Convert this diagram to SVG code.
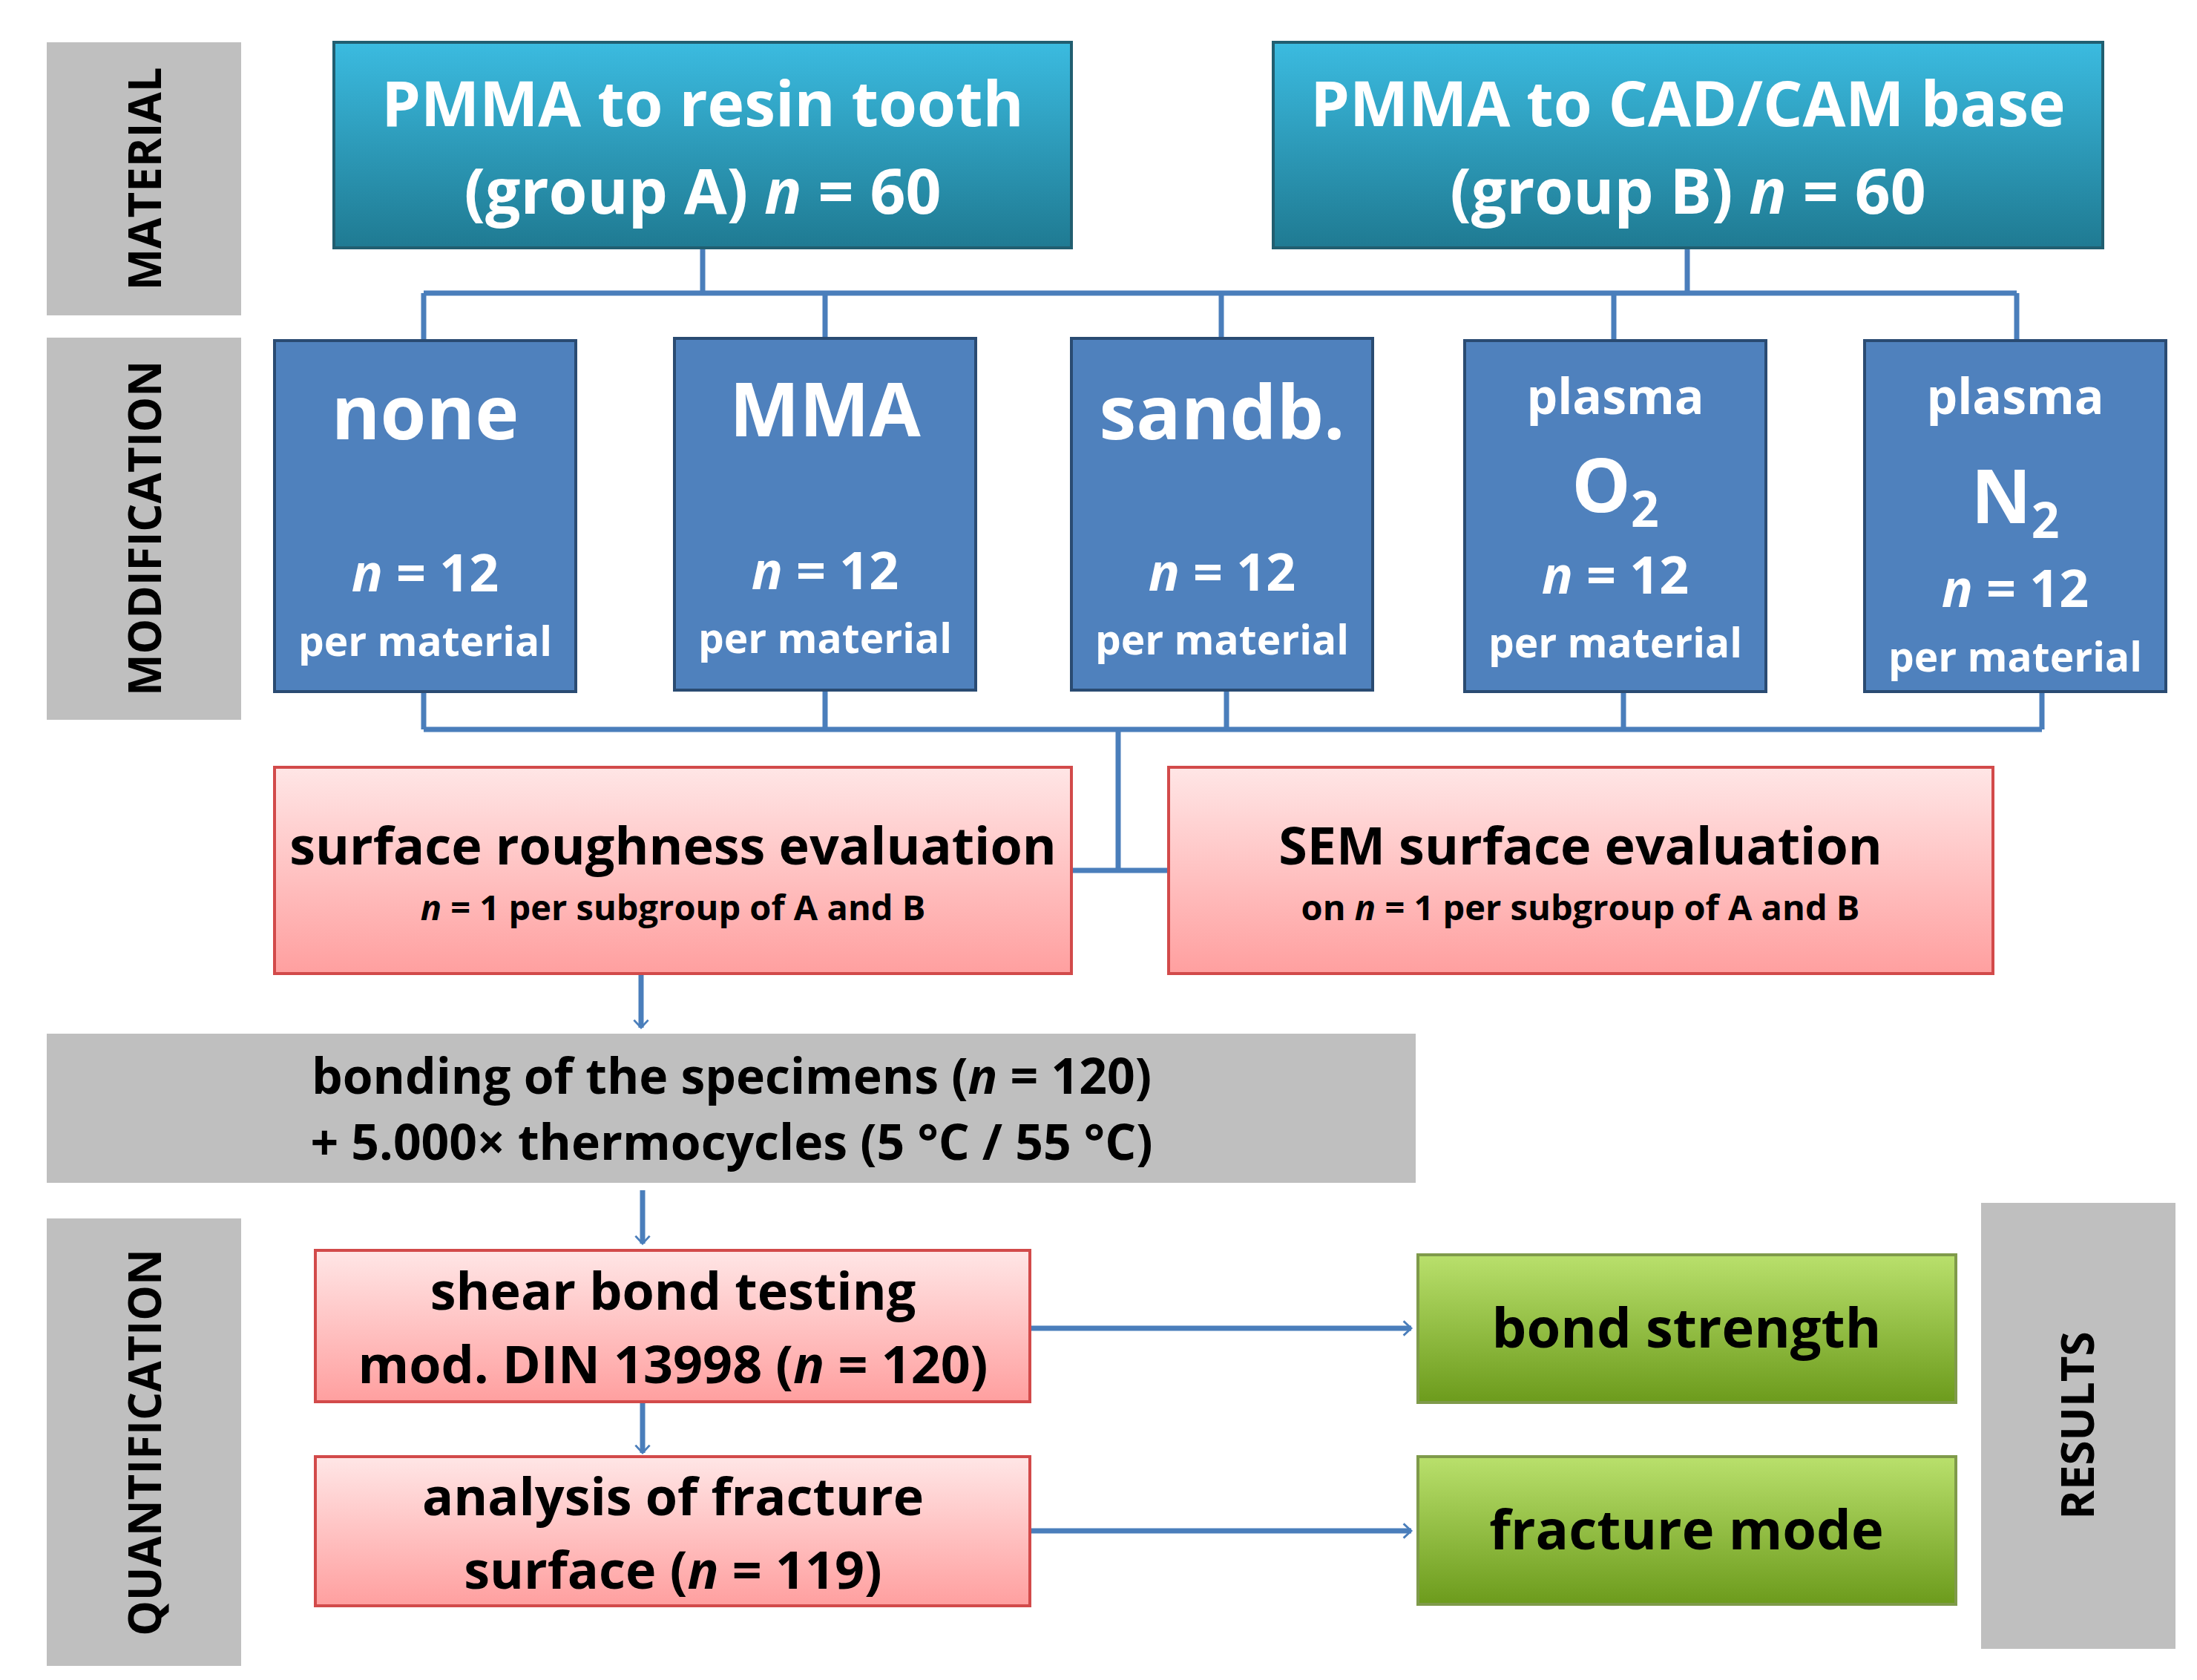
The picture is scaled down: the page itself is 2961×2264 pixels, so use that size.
<svg xmlns="http://www.w3.org/2000/svg" width="2961" height="2264" viewBox="0 0 2961 2264">
<defs>
<linearGradient id="gt" x1="0" y1="0" x2="0" y2="1"><stop offset="0" stop-color="#3bbbe0"/><stop offset="1" stop-color="#1f7a92"/></linearGradient>
<linearGradient id="gp" x1="0" y1="0" x2="0" y2="1"><stop offset="0" stop-color="#ffe6e6"/><stop offset="1" stop-color="#ff9f9f"/></linearGradient>
<linearGradient id="gg" x1="0" y1="0" x2="0" y2="1"><stop offset="0" stop-color="#b9e06c"/><stop offset="1" stop-color="#6c9b1c"/></linearGradient>
<marker id="ar" viewBox="0 0 20 20" refX="18" refY="10" markerWidth="8" markerHeight="8" markerUnits="userSpaceOnUse" orient="auto" style="overflow:visible">
<path d="M-8,-14 L18,10 L-8,34" fill="none" stroke="#4a7ebb" stroke-width="7"/></marker>
<style>
text{font-family:"Open Sans","Liberation Sans",sans-serif;font-weight:bold;text-anchor:middle}
.side{fill:#bfbfbf}
.sl{font-size:60px;fill:#000}
.top{fill:url(#gt);stroke:#215e70;stroke-width:4}
.tt{font-size:84px;fill:#fff}
.mod{fill:#4f81bd;stroke:#2a4b72;stroke-width:4}
.mw{fill:#fff}
.pk{fill:url(#gp);stroke:#d24a4a;stroke-width:4}
.gr{fill:url(#gg);stroke:#7f9a4a;stroke-width:4}
.k{fill:#000}
.c{fill:none;stroke:#4a7ebb;stroke-width:7}
</style>
</defs>
<g id="side-labels">
<rect class="side" x="63" y="57" width="262" height="368"/>
<text class="sl" transform="translate(217,241) rotate(-90)">MATERIAL</text>
<rect class="side" x="63" y="455" width="262" height="515"/>
<text class="sl" transform="translate(217,712) rotate(-90)">MODIFICATION</text>
<rect class="side" x="63" y="1642" width="262" height="603"/>
<text class="sl" transform="translate(217,1944) rotate(-90)">QUANTIFICATION</text>
<rect class="side" x="2670" y="1621" width="262" height="601"/>
<text class="sl" transform="translate(2822,1921) rotate(-90)">RESULTS</text>
</g>
<g id="connectors">
<path class="c" d="M947,334V395M2274,334V395M571,395H2718M571,395V459M1112,395V456M1646,395V456M2175,395V459M2718,395V459"/>
<path class="c" d="M571,932V983M1112,930V983M1653,930V983M2188,932V983M2752,932V983M571,983H2752M1507,983V1173M1444,1173H1575"/>
<path class="c" marker-end="url(#ar)" d="M864,1312V1385"/>
<path class="c" marker-end="url(#ar)" d="M866,1604V1676"/>
<path class="c" marker-end="url(#ar)" d="M866,1889V1958"/>
<path class="c" marker-end="url(#ar)" d="M1388,1790H1902"/>
<path class="c" marker-end="url(#ar)" d="M1388,2063H1902"/>
</g>
<g id="groupA"><rect class="top" x="450" y="57" width="994" height="277"/>
<text class="tt" x="947" y="170">PMMA to resin tooth</text>
<text class="tt" x="947" y="288">(group A) <tspan font-style="italic">n</tspan> = 60</text></g>
<g id="groupB"><rect class="top" x="1716" y="57" width="1118" height="277"/>
<text class="tt" x="2275" y="170">PMMA to CAD/CAM base</text>
<text class="tt" x="2275" y="288">(group B) <tspan font-style="italic">n</tspan> = 60</text></g>
<g id="none"><rect class="mod" x="370" y="459" width="406" height="473"/>
<text class="mw" x="573" y="592" font-size="100">none</text>
<text class="mw" x="573" y="797" font-size="70"><tspan font-style="italic">n</tspan> = 12</text>
<text class="mw" x="573" y="884" font-size="55">per material</text></g>
<g id="mma"><rect class="mod" x="909" y="456" width="406" height="474"/>
<text class="mw" x="1112" y="588" font-size="100">MMA</text>
<text class="mw" x="1112" y="794" font-size="70"><tspan font-style="italic">n</tspan> = 12</text>
<text class="mw" x="1112" y="880" font-size="55">per material</text></g>
<g id="sandb"><rect class="mod" x="1444" y="456" width="406" height="474"/>
<text class="mw" x="1647" y="592" font-size="100">sandb.</text>
<text class="mw" x="1647" y="796" font-size="70"><tspan font-style="italic">n</tspan> = 12</text>
<text class="mw" x="1647" y="882" font-size="55">per material</text></g>
<g id="o2"><rect class="mod" x="1974" y="459" width="406" height="473"/>
<text class="mw" x="2177" y="558" font-size="66">plasma</text>
<text class="mw" x="2177" y="690" font-size="100">O<tspan font-size="66" dy="20">2</tspan></text>
<text class="mw" x="2177" y="800" font-size="70"><tspan font-style="italic">n</tspan> = 12</text>
<text class="mw" x="2177" y="886" font-size="55">per material</text></g>
<g id="n2"><rect class="mod" x="2513" y="459" width="406" height="473"/>
<text class="mw" x="2716" y="558" font-size="66">plasma</text>
<text class="mw" x="2716" y="705" font-size="100">N<tspan font-size="66" dy="20">2</tspan></text>
<text class="mw" x="2716" y="818" font-size="70"><tspan font-style="italic">n</tspan> = 12</text>
<text class="mw" x="2716" y="905" font-size="55">per material</text></g>
<g id="roughness"><rect class="pk" x="370" y="1034" width="1074" height="278"/>
<text class="k" x="907" y="1165" font-size="70">surface roughness evaluation</text>
<text class="k" x="907" y="1240" font-size="47"><tspan font-style="italic">n</tspan> = 1 per subgroup of A and B</text></g>
<g id="sem"><rect class="pk" x="1575" y="1034" width="1111" height="278"/>
<text class="k" x="2130" y="1165" font-size="70">SEM surface evaluation</text>
<text class="k" x="2130" y="1240" font-size="47">on <tspan font-style="italic">n</tspan> = 1 per subgroup of A and B</text></g>
<g id="bonding"><rect class="side" x="63" y="1393" width="1845" height="201"/>
<text class="k" x="986" y="1474" font-size="66">bonding of the specimens (<tspan font-style="italic">n</tspan> = 120)</text>
<text class="k" x="986" y="1563" font-size="66">+ 5.000× thermocycles (5 °C / 55 °C)</text></g>
<g id="shear"><rect class="pk" x="425" y="1685" width="963" height="204"/>
<text class="k" x="907" y="1765" font-size="70">shear bond testing</text>
<text class="k" x="907" y="1864" font-size="70">mod. DIN 13998 (<tspan font-style="italic">n</tspan> = 120)</text></g>
<g id="fracture-analysis"><rect class="pk" x="425" y="1963" width="963" height="201"/>
<text class="k" x="907" y="2042" font-size="70">analysis of fracture</text>
<text class="k" x="907" y="2141" font-size="70">surface (<tspan font-style="italic">n</tspan> = 119)</text></g>
<g id="bond-strength"><rect class="gr" x="1911" y="1691" width="725" height="199"/>
<text class="k" x="2273" y="1816" font-size="74">bond strength</text></g>
<g id="fracture-mode"><rect class="gr" x="1911" y="1963" width="725" height="199"/>
<text class="k" x="2273" y="2088" font-size="74">fracture mode</text></g>
</svg>
